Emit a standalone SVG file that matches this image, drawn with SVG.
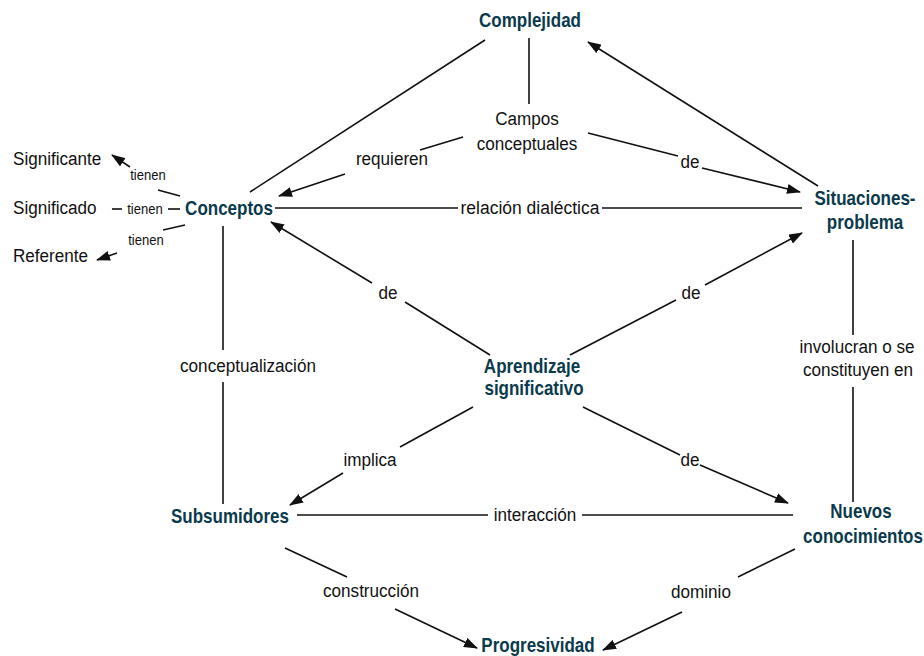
<svg xmlns="http://www.w3.org/2000/svg" width="924" height="656" viewBox="0 0 924 656">
<style>
text{font-family:"Liberation Sans",Arial,sans-serif}
.node{font-weight:bold;font-size:20px;fill:#0b3a4c;text-anchor:middle}
.lbl{font-size:19px;fill:#111;text-anchor:middle}
.st{text-anchor:start}
.sm{font-size:15px;fill:#111;text-anchor:middle}
.ln{stroke:#111;stroke-width:1.6;fill:none}
.ar{stroke:#111;stroke-width:1.6;fill:none;marker-end:url(#ah)}
</style>
<defs>
<marker id="ah" markerUnits="userSpaceOnUse" markerWidth="14" markerHeight="10" refX="13" refY="5" orient="auto">
<path d="M0,0 L14,5 L0,10 Z" fill="#111"/>
</marker>
</defs>
<rect width="924" height="656" fill="#fff"/>
<g id="connectors">
<line class="ln" x1="485" y1="40" x2="250" y2="192"/>
<line class="ln" x1="529" y1="38" x2="529" y2="104"/>
<line class="ar" x1="818" y1="186" x2="588" y2="42"/>
<line class="ln" x1="463" y1="137" x2="420" y2="150"/>
<line class="ar" x1="345" y1="174" x2="279" y2="196"/>
<line class="ln" x1="588" y1="133" x2="678" y2="156"/>
<line class="ar" x1="702" y1="168" x2="800" y2="192"/>
<line class="ln" x1="275" y1="208" x2="458" y2="208"/>
<line class="ln" x1="602" y1="208" x2="802" y2="208"/>
<line class="ln" x1="490" y1="355" x2="405" y2="302"/>
<line class="ar" x1="372" y1="283" x2="271" y2="222"/>
<line class="ln" x1="570" y1="355" x2="676" y2="300"/>
<line class="ar" x1="705" y1="285" x2="802" y2="233"/>
<line class="ln" x1="223" y1="226" x2="223" y2="350"/>
<line class="ln" x1="223" y1="382" x2="223" y2="504"/>
<line class="ln" x1="853" y1="240" x2="853" y2="335"/>
<line class="ln" x1="853" y1="387" x2="853" y2="502"/>
<line class="ln" x1="473" y1="407" x2="400" y2="447"/>
<line class="ar" x1="343" y1="473" x2="290" y2="505"/>
<line class="ln" x1="583" y1="407" x2="680" y2="455"/>
<line class="ar" x1="700" y1="465" x2="788" y2="503"/>
<line class="ln" x1="297" y1="515" x2="488" y2="515"/>
<line class="ln" x1="582" y1="515" x2="793" y2="515"/>
<line class="ln" x1="285" y1="548" x2="347" y2="577"/>
<line class="ar" x1="395" y1="609" x2="477" y2="648"/>
<line class="ln" x1="795" y1="549" x2="738" y2="577"/>
<line class="ar" x1="682" y1="612" x2="603" y2="650"/>
<line class="ln" x1="180" y1="196" x2="158" y2="190"/>
<line class="ar" x1="130" y1="167" x2="112" y2="155"/>
<line class="ln" x1="180" y1="209" x2="168" y2="209"/>
<line class="ln" x1="122" y1="209" x2="112" y2="209"/>
<line class="ln" x1="185" y1="225" x2="163" y2="230"/>
<line class="ar" x1="117" y1="253" x2="97" y2="260"/>
</g>
<g id="labels">
<text class="lbl" transform="translate(392,165) scale(0.9,1)">requieren</text>
<text class="lbl" transform="translate(690,168) scale(0.9,1)">de</text>
<text class="lbl" transform="translate(530,214) scale(0.92,1)">relación dialéctica</text>
<text class="lbl" transform="translate(388,299) scale(0.9,1)">de</text>
<text class="lbl" transform="translate(691,299) scale(0.9,1)">de</text>
<text class="lbl" transform="translate(248,372) scale(0.9,1)">conceptualización</text>
<text class="lbl" transform="translate(857,353) scale(0.9,1)">involucran o se</text>
<text class="lbl" transform="translate(858,376) scale(0.9,1)">constituyen en</text>
<text class="lbl" transform="translate(370,466) scale(0.9,1)">implica</text>
<text class="lbl" transform="translate(690,466) scale(0.9,1)">de</text>
<text class="lbl" transform="translate(535,521) scale(0.9,1)">interacción</text>
<text class="lbl" transform="translate(371,597) scale(0.9,1)">construcción</text>
<text class="lbl" transform="translate(701,598) scale(0.9,1)">dominio</text>
<text class="sm" transform="translate(148,180) scale(0.87,1)">tienen</text>
<text class="sm" transform="translate(145,214) scale(0.87,1)">tienen</text>
<text class="sm" transform="translate(146,245) scale(0.87,1)">tienen</text>
</g>
<g id="complejidad"><text class="node" transform="translate(530,27) scale(0.85,1)">Complejidad</text></g>
<g id="campos"><text class="lbl" transform="translate(527,125) scale(0.9,1)">Campos</text><text class="lbl" transform="translate(527,150) scale(0.9,1)">conceptuales</text></g>
<g id="conceptos"><text class="node" transform="translate(229,215) scale(0.85,1)">Conceptos</text></g>
<g id="situaciones"><text class="node" transform="translate(865,205) scale(0.85,1)">Situaciones-</text><text class="node" transform="translate(865,229) scale(0.85,1)">problema</text></g>
<g id="significante"><text class="lbl st" transform="translate(13,165) scale(0.9,1)">Significante</text></g>
<g id="significado"><text class="lbl st" transform="translate(13,214) scale(0.9,1)">Significado</text></g>
<g id="referente"><text class="lbl st" transform="translate(13,262) scale(0.9,1)">Referente</text></g>
<g id="aprendizaje"><text class="node" transform="translate(532,373) scale(0.85,1)">Aprendizaje</text><text class="node" transform="translate(534,395) scale(0.85,1)">significativo</text></g>
<g id="subsumidores"><text class="node" transform="translate(230,523) scale(0.85,1)">Subsumidores</text></g>
<g id="nuevos"><text class="node" transform="translate(861,518) scale(0.85,1)">Nuevos</text><text class="node" transform="translate(863,543) scale(0.85,1)">conocimientos</text></g>
<g id="progresividad"><text class="node" transform="translate(538,652) scale(0.85,1)">Progresividad</text></g>
</svg>
